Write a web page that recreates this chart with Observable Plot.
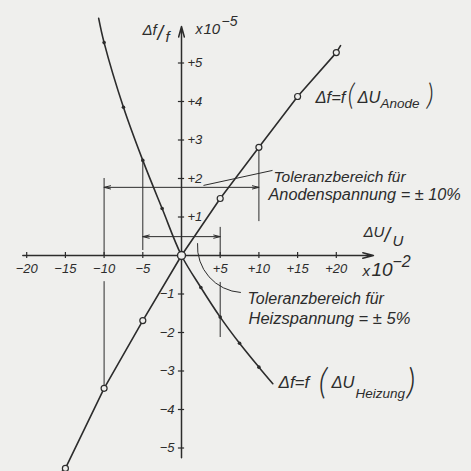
<!DOCTYPE html>
<html>
<head>
<meta charset="utf-8">
<script src="https://cdn.jsdelivr.net/npm/d3@7"></script>
<script src="https://cdn.jsdelivr.net/npm/@observablehq/plot@0.6"></script>
<style>
  html, body { margin: 0; padding: 0; background: #efefed; }
  #chart svg { display: block; }
</style>
</head>
<body>
<div id="chart"></div>
<script>
// Frequency drift Δf/f (×10^-5) versus relative supply change ΔU/U (×10^-2)

// Anode voltage: measured points (open circles) and drawn line ends
const anodeDU = [-15, -10, -5, 0, 5, 10, 15, 20];
const anodeDF = [-5.53, -3.45, -1.69, 0, 1.48, 2.81, 4.13, 5.27];
const anodeLineDU = [-15.5, -15, -10, -5, 0, 5, 10, 15, 20, 20.55];
const anodeLineDF = [-5.62, -5.53, -3.45, -1.69, 0, 1.48, 2.81, 4.13, 5.27, 5.45];

// Heater voltage curve (first and last entries are the curve ends)
const heizDU = [-10.7, -10, -7.5, -5, -2.5, 0, 2.5, 5, 7.5, 10, 11.8];
const heizDF = [6.16, 5.53, 3.85, 2.47, 1.22, 0, -0.83, -1.6, -2.28, -2.9, -3.33];

// Tolerance ranges: ±10 % anode, ±5 % heater
const tolRange = [10, 5];
const tolLevel = [1.77, 0.49];

// Vertical guide segments of the tolerance brackets
const guideX = [-10, -10, 10, -5, 5, 5];
const guideTop = [2.0, -0.68, 2.81, 2.47, 0.73, -0.7];
const guideBottom = [0, -3.45, 0.88, 0.13, 0, -2.13];

// Axis ticks and their labels
const xTicks = [-20, -15, -10, -5, 5, 10, 15, 20];
const xTickLabels = ["−20", "−15", "−10", "−5", "+5", "+10", "+15", "+20"];
const yTicks = [-5, -4, -3, -2, -1, 1, 2, 3, 4, 5];
const yTickLabels = ["−5", "−4", "−3", "−2", "−1", "+1", "+2", "+3", "+4", "+5"];

const ink = "#2c2c2c";
const paper = "#efefed";
const font = "'Liberation Sans', Arial, sans-serif";
const thinFont = "Lato, 'Liberation Sans', sans-serif";

const anodePts = anodeDU.map((x, i) => ({x, y: anodeDF[i]}));
const anodeLine = anodeLineDU.map((x, i) => ({x, y: anodeLineDF[i]}));
const heizPts = heizDU.map((x, i) => ({x, y: heizDF[i]}));
const heizMarks = heizPts.filter((d, i) => i > 0 && i < heizPts.length - 1 && d.x !== 0);
const guides = guideX.map((x, i) => ({x, y1: guideTop[i], y2: guideBottom[i]}));
const arrows = [];
tolRange.forEach((t, i) => {
  arrows.push({x1: 0, x2: -t, y: tolLevel[i]});
  arrows.push({x1: 0, x2: t, y: tolLevel[i]});
});
const xLab = xTicks.map((x, i) => ({x, t: xTickLabels[i]}));
const yLab = yTicks.map((y, i) => ({y, t: yTickLabels[i]}));

// one italic text fragment, anchored at a data point and shifted in pixels
function piece(str, x, y, dx, dy, size, family = font, weight = 400) {
  return Plot.text([str], {
    x: () => x, y: () => y, text: d => d, dx, dy,
    fontSize: size, fontFamily: family, fontWeight: weight, fontStyle: "italic",
    textAnchor: "start", lineAnchor: "bottom", fill: ink
  });
}

const chart = Plot.plot({
  width: 471,
  height: 471,
  margin: 0,
  style: {background: paper},
  x: {domain: [-181 / 7.74, 290 / 7.74], axis: null},
  y: {domain: [-216 / 38.5, 255 / 38.5], axis: null},
  marks: [
    // axes with arrow tips
    Plot.arrow([0], {x1: -20.5, x2: 24.8, y1: 0, y2: 0, stroke: ink, strokeWidth: 1.5, headLength: 11, headAngle: 30}),
    Plot.arrow([0], {x1: 0, x2: 0, y1: -5.25, y2: 5.95, stroke: ink, strokeWidth: 1.5, headLength: 11, headAngle: 30}),
    Plot.ruleX(xTicks, {x: d => d, y1: -0.08, y2: 0.08, stroke: ink, strokeWidth: 1.2}),
    Plot.ruleY(yTicks, {y: d => d, x1: -0.4, x2: 0.4, stroke: ink, strokeWidth: 1.2}),
    Plot.text(xLab, {x: "x", y: () => 0, text: "t", dy: 13, fontSize: 13, fontFamily: font, fontStyle: "italic", fill: ink}),
    Plot.text(yLab.filter(d => d.y > 0), {x: () => 0, y: "y", text: "t", dx: 6, textAnchor: "start", fontSize: 13, fontFamily: font, fontStyle: "italic", fill: ink}),
    Plot.text(yLab.filter(d => d.y < 0), {x: () => 0, y: "y", text: "t", dx: -7, textAnchor: "end", fontSize: 13, fontFamily: font, fontStyle: "italic", fill: ink}),

    // tolerance brackets
    Plot.ruleX(guides, {x: "x", y1: "y1", y2: "y2", stroke: ink, strokeWidth: 1}),
    Plot.arrow(arrows, {x1: "x1", x2: "x2", y1: "y", y2: "y", stroke: ink, strokeWidth: 1, headLength: 10, headAngle: 28}),

    // leader lines to the tolerance notes
    Plot.link([0], {x1: 2.84, y1: 1.82, x2: 11.76, y2: 2.21, stroke: ink, strokeWidth: 1}),
    Plot.arrow([0], {x1: 2.07, y1: 0.31, x2: 7.62, y2: -0.96, bend: -45, headLength: 0, stroke: ink, strokeWidth: 1}),

    // curves
    Plot.line(heizPts, {x: "x", y: "y", curve: "catmull-rom", stroke: ink, strokeWidth: 1.6}),
    Plot.dot(heizMarks, {x: "x", y: "y", r: 1.8, fill: ink}),
    Plot.line(anodeLine, {x: "x", y: "y", stroke: ink, strokeWidth: 1.6}),
    Plot.dot(anodePts.filter(d => d.x !== 0), {x: "x", y: "y", r: 3, fill: paper, stroke: ink, strokeWidth: 1.2}),
    Plot.dot(anodePts.filter(d => d.x === 0), {x: "x", y: "y", r: 4, fill: paper, stroke: ink, strokeWidth: 1.4}),

    // axis titles and scale factors
    piece("Δf", -5.04, 5.74, 0, 0, 15),
    piece("/", -5.04, 5.74, 15, 5, 20),
    piece("f", -5.04, 5.74, 23, 7, 15),
    piece("x", 1.81, 5.766, 0, 0, 14),
    piece("10", 1.81, 5.766, 8, 0, 15),
    piece("−5", 1.81, 5.766, 26, -8, 14),
    piece("ΔU", 23.51, 0.468, 0, 0, 15),
    piece("/", 23.51, 0.468, 21, 5, 20),
    piece("U", 23.51, 0.468, 29, 9, 15),
    piece("x", 23.38, -0.545, 0, 0, 15),
    piece("10", 23.38, -0.545, 9, 0, 19),
    piece("−2", 23.38, -0.545, 30, -9, 16),

    // tolerance notes
    piece("Toleranzbereich für", 11.89, 1.92, 0, 0, 15.5),
    piece("Anodenspannung = ± 10%", 11.24, 1.45, 0, 0, 16.3),
    piece("Toleranzbereich für", 8.53, -1.27, 0, 0, 16),
    piece("Heizspannung = ± 5%", 8.66, -1.79, 0, 0, 16.5),

    // curve names
    piece("Δf=f", 17.31, 3.97, 0, 0, 16.5),
    piece("(", 17.31, 3.97, 32, 2, 29, thinFont, 300),
    piece("ΔU", 17.31, 3.97, 42, 0, 16.5),
    piece("Anode", 17.31, 3.97, 65, 5, 13.5),
    piece(")", 17.31, 3.97, 111, 2, 29, thinFont, 300),
    piece("Δf=f", 12.53, -3.43, 0, 0, 17),
    piece("(", 12.53, -3.43, 40, 6, 36, thinFont, 300),
    piece("ΔU", 12.53, -3.43, 53, 0, 16.5),
    piece("Heizung", 12.53, -3.43, 77, 10, 13.5),
    piece(")", 12.53, -3.43, 128, 6, 36, thinFont, 300)
  ]
});

document.getElementById("chart").append(chart);
</script>
</body>
</html>
